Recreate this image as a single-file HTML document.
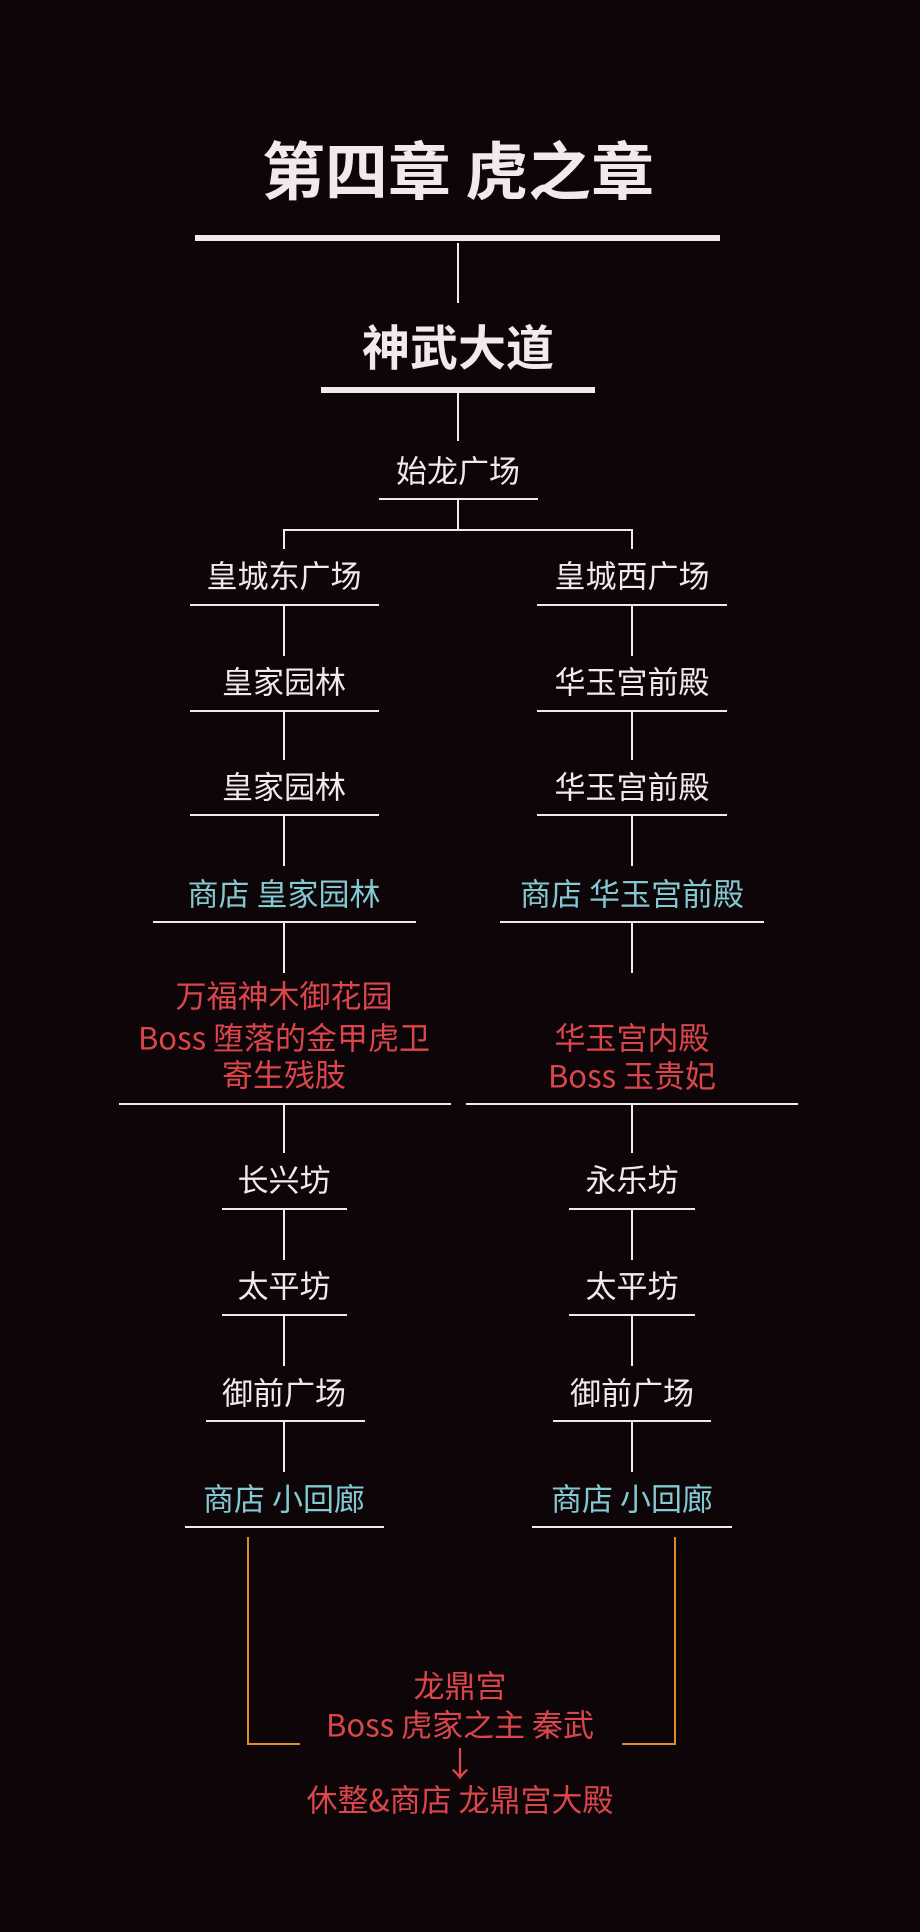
<!DOCTYPE html>
<html><head><meta charset="utf-8"><style>
html,body{margin:0;padding:0;background:#0d0508;}
svg{display:block}
text{font-family:"Noto Sans CJK SC","Liberation Sans",sans-serif;text-anchor:middle;dominant-baseline:central}
.w{fill:#f2eaea;font-size:31px}
.c{fill:#82c9d2;font-size:31px}
.r{fill:#da464b;font-size:31px}
</style></head><body>
<svg width="920" height="1932" viewBox="0 0 920 1932" xmlns="http://www.w3.org/2000/svg">
<rect width="920" height="1932" fill="#0d0508"/>
<g stroke="#f2eaea" fill="none">
<line x1="195" y1="238" x2="720" y2="238" stroke-width="6"/>
<line x1="458" y1="243" x2="458" y2="303" stroke-width="2"/>
<line x1="321" y1="390" x2="595" y2="390" stroke-width="6"/>
<line x1="458" y1="393" x2="458" y2="441" stroke-width="2"/>
<line x1="379" y1="499" x2="538" y2="499" stroke-width="2"/>
<line x1="458" y1="499" x2="458" y2="530" stroke-width="2"/>
<polyline points="284,549 284,530 632,530 632,549" stroke-width="2"/>
<line x1="190" y1="605" x2="379" y2="605" stroke-width="2"/>
<line x1="537" y1="605" x2="727" y2="605" stroke-width="2"/>
<line x1="284" y1="605" x2="284" y2="656" stroke-width="2"/>
<line x1="632" y1="605" x2="632" y2="656" stroke-width="2"/>
<line x1="190" y1="711" x2="379" y2="711" stroke-width="2"/>
<line x1="537" y1="711" x2="727" y2="711" stroke-width="2"/>
<line x1="284" y1="711" x2="284" y2="760" stroke-width="2"/>
<line x1="632" y1="711" x2="632" y2="760" stroke-width="2"/>
<line x1="190" y1="815" x2="379" y2="815" stroke-width="2"/>
<line x1="537" y1="815" x2="727" y2="815" stroke-width="2"/>
<line x1="284" y1="815" x2="284" y2="866" stroke-width="2"/>
<line x1="632" y1="815" x2="632" y2="866" stroke-width="2"/>
<line x1="153" y1="922" x2="416" y2="922" stroke-width="2"/>
<line x1="500" y1="922" x2="764" y2="922" stroke-width="2"/>
<line x1="284" y1="922" x2="284" y2="973" stroke-width="2"/>
<line x1="632" y1="922" x2="632" y2="973" stroke-width="2"/>
<line x1="119" y1="1104" x2="451" y2="1104" stroke-width="2"/>
<line x1="466" y1="1104" x2="798" y2="1104" stroke-width="2"/>
<line x1="284" y1="1104" x2="284" y2="1153" stroke-width="2"/>
<line x1="632" y1="1104" x2="632" y2="1153" stroke-width="2"/>
<line x1="222" y1="1209" x2="347" y2="1209" stroke-width="2"/>
<line x1="569" y1="1209" x2="695" y2="1209" stroke-width="2"/>
<line x1="284" y1="1209" x2="284" y2="1260" stroke-width="2"/>
<line x1="632" y1="1209" x2="632" y2="1260" stroke-width="2"/>
<line x1="222" y1="1315" x2="347" y2="1315" stroke-width="2"/>
<line x1="569" y1="1315" x2="695" y2="1315" stroke-width="2"/>
<line x1="284" y1="1315" x2="284" y2="1366" stroke-width="2"/>
<line x1="632" y1="1315" x2="632" y2="1366" stroke-width="2"/>
<line x1="206" y1="1421" x2="365" y2="1421" stroke-width="2"/>
<line x1="553" y1="1421" x2="711" y2="1421" stroke-width="2"/>
<line x1="284" y1="1421" x2="284" y2="1472" stroke-width="2"/>
<line x1="632" y1="1421" x2="632" y2="1472" stroke-width="2"/>
<line x1="185" y1="1527" x2="384" y2="1527" stroke-width="2"/>
<line x1="532" y1="1527" x2="732" y2="1527" stroke-width="2"/>
</g>
<g stroke="#e08a2a" stroke-width="2" fill="none">
<polyline points="248,1537 248,1744 300,1744"/>
<polyline points="622,1744 675,1744 675,1537"/>
</g>
<g transform="translate(0,-1)">
<text x="458" y="169" style="font-size:63px;font-weight:bold;fill:#f2eaea">第四章 虎之章</text>
<text x="458" y="345" style="font-size:48px;font-weight:bold;fill:#f2eaea">神武大道</text>
<text class="w" x="458" y="470">始龙广场</text>
<text class="w" x="284" y="575">皇城东广场</text>
<text class="w" x="632" y="575">皇城西广场</text>
<text class="w" x="284" y="681">皇家园林</text>
<text class="w" x="632" y="681">华玉宫前殿</text>
<text class="w" x="284" y="786">皇家园林</text>
<text class="w" x="632" y="786">华玉宫前殿</text>
<text class="c" x="284" y="893">商店 皇家园林</text>
<text class="c" x="632" y="893">商店 华玉宫前殿</text>
<text class="r" x="284" y="995">万福神木御花园</text>
<text class="r" x="284" y="1037">Boss 堕落的金甲虎卫</text>
<text class="r" x="284" y="1074">寄生残肢</text>
<text class="r" x="632" y="1037">华玉宫内殿</text>
<text class="r" x="632" y="1075">Boss 玉贵妃</text>
<text class="w" x="284" y="1179">长兴坊</text>
<text class="w" x="632" y="1179">永乐坊</text>
<text class="w" x="284" y="1285">太平坊</text>
<text class="w" x="632" y="1285">太平坊</text>
<text class="w" x="284" y="1392">御前广场</text>
<text class="w" x="632" y="1392">御前广场</text>
<text class="c" x="284" y="1498">商店 小回廊</text>
<text class="c" x="632" y="1498">商店 小回廊</text>
<text class="r" x="460" y="1685">龙鼎宫</text>
<text class="r" x="460" y="1724">Boss 虎家之主 秦武</text>
<text class="r" x="460" y="1763" style="font-size:34px">↓</text>
<text class="r" x="460" y="1799">休整&amp;商店 龙鼎宫大殿</text>
</g>
</svg>
</body></html>
